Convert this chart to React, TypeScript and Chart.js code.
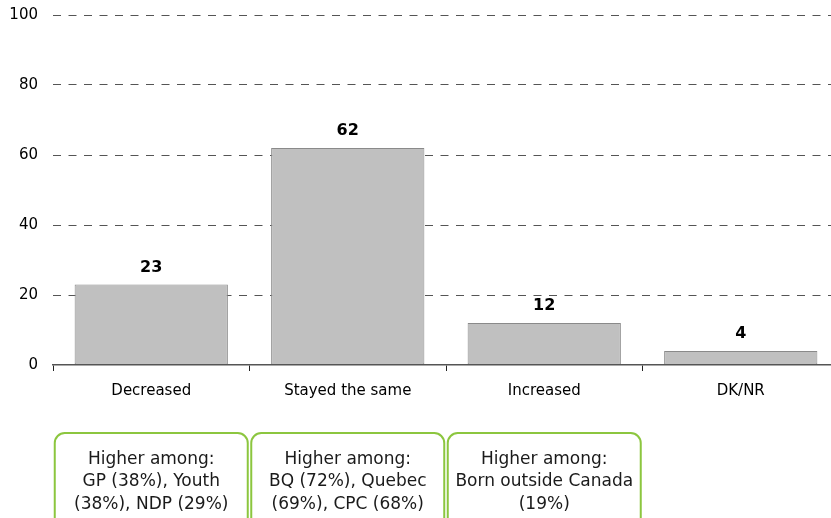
import React, { useEffect, useRef } from "react";
import { Chart, registerables } from "chart.js";

Chart.register(...registerables);

const categories = ["Decreased", "Stayed the same", "Increased", "DK/NR"];
const values = [23, 62, 12, 4];
const yTicks = [0, 20, 40, 60, 80, 100];
const notes: string[][] = [
  ["Higher among:", "GP (38%), Youth", "(38%), NDP (29%)"],
  ["Higher among:", "BQ (72%), Quebec", "(69%), CPC (68%)"],
  ["Higher among:", "Born outside Canada", "(19%)"],
  [],
];

const FONT = "'DejaVu Sans', Verdana, sans-serif";

const labelPlugin = {
  id: "valueLabels",
  afterDatasetsDraw(chart: any) {
    const ctx = chart.ctx;
    const meta = chart.getDatasetMeta(0);
    ctx.save();
    ctx.font = `bold 16px ${FONT}`;
    ctx.fillStyle = "#000";
    ctx.textAlign = "center";
    ctx.textBaseline = "middle";
    meta.data.forEach((el: any, i: number) => {
      ctx.fillText(String(values[i]), el.x, el.y - 17);
    });
    ctx.restore();
  },
};

const yLabelPlugin = {
  id: "yLabels",
  afterDraw(chart: any) {
    const ctx = chart.ctx;
    const ys = chart.scales.y;
    ctx.save();
    ctx.font = `15px ${FONT}`;
    ctx.fillStyle = "#000";
    ctx.textAlign = "right";
    ctx.textBaseline = "middle";
    yTicks.forEach((v) => {
      ctx.fillText(String(v), ys.right - 15, ys.getPixelForValue(v));
    });
    ctx.restore();
  },
};

const notesPlugin = {
  id: "notesBoxes",
  afterDraw(chart: any) {
    const ctx = chart.ctx;
    const xs = chart.scales.x;
    ctx.save();
    notes.forEach((lines, i) => {
      if (!lines.length) return;
      const cx = xs.getPixelForValue(i);
      const w = 193;
      const x0 = cx - w / 2;
      const y0 = 433;
      const h = 110;
      const r = 10;
      ctx.beginPath();
      ctx.roundRect(x0, y0, w, h, r);
      ctx.strokeStyle = "#8CC63F";
      ctx.lineWidth = 2;
      ctx.stroke();
      ctx.font = `17px ${FONT}`;
      ctx.fillStyle = "#1a1a1a";
      ctx.textAlign = "center";
      ctx.textBaseline = "alphabetic";
      lines.forEach((t, j) => {
        ctx.fillText(t, cx, 463.5 + j * 22.5);
      });
    });
    ctx.restore();
  },
};

export default function App() {
  const ref = useRef<HTMLCanvasElement | null>(null);
  useEffect(() => {
    if (!ref.current) return;
    const chart = new Chart(ref.current, {
      type: "bar",
      data: {
        labels: categories,
        datasets: [
          {
            data: values,
            backgroundColor: "#C0C0C0",
            borderColor: "#8A8A8A",
            borderWidth: 1,
            borderSkipped: false,
            categoryPercentage: 1,
            barPercentage: 0.78,
          },
        ],
      },
      options: {
        animation: false,
        responsive: false,
        layout: { padding: { top: 15, right: 11, left: 0, bottom: 0 } },
        plugins: { legend: { display: false }, tooltip: { enabled: false } },
        scales: {
          y: {
            min: 0,
            max: 100,
            afterBuildTicks: (s: any) => {
              s.ticks = yTicks.map((v) => ({ value: v }));
            },
            afterFit: (s: any) => {
              s.width = 53;
            },
            ticks: { display: false },
            grid: {
              drawTicks: false,
              color: (c: any) => (c.tick && c.tick.value === 0 ? "rgba(0,0,0,0)" : "#555"),
              lineWidth: 1,
            },
            border: { display: false, dash: [8, 7.5] },
          },
          x: {
            afterFit: (s: any) => {
              s.height = 153;
            },
            ticks: {
              padding: 11,
              color: "#000",
              font: { family: FONT, size: 15 },
              maxRotation: 0,
            },
            grid: {
              offset: true,
              drawOnChartArea: false,
              drawTicks: true,
              tickLength: 6,
              color: "#222",
              lineWidth: 1,
            },
            border: { display: true, color: "#555", width: 1.5, z: 1 },
          },
        },
      },
      plugins: [labelPlugin, yLabelPlugin, notesPlugin],
    });
    return () => chart.destroy();
  }, []);
  return (
    <div
      style={{
        position: "fixed",
        left: 0,
        top: 0,
        width: 831,
        height: 518,
        overflow: "hidden",
        background: "#fff",
      }}
    >
      <canvas ref={ref} width={850} height={518} style={{ display: "block" }} />
    </div>
  );
}
